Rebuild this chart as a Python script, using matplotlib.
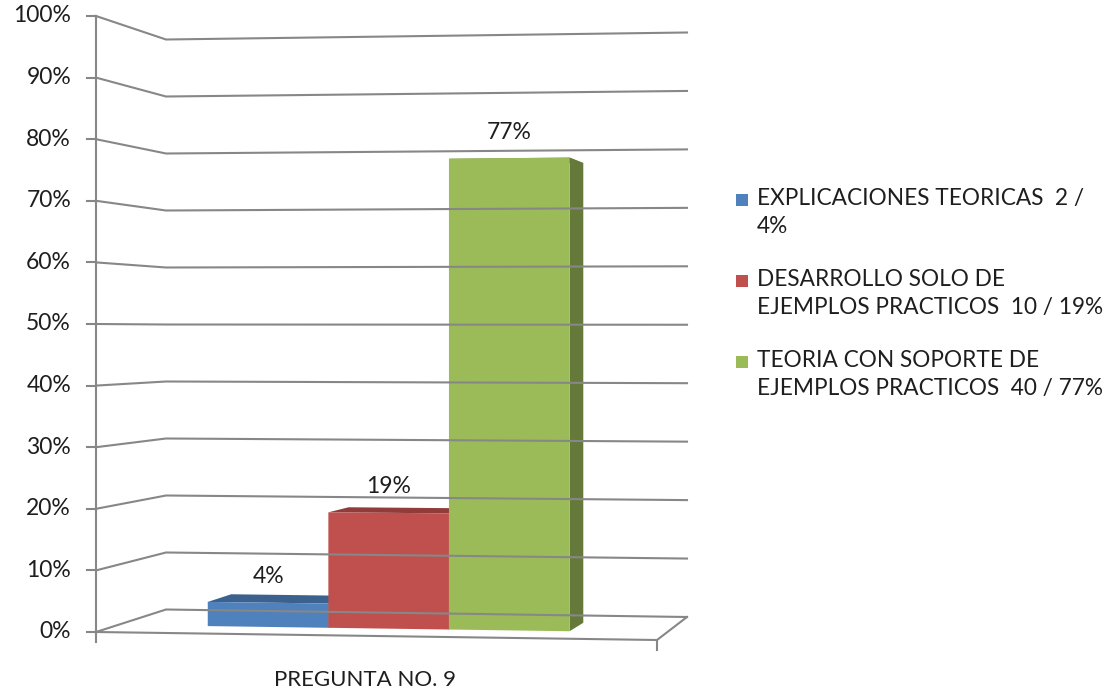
import matplotlib.pyplot as plt
from matplotlib.patches import Polygon
import numpy as np

# datos de la pregunta 9
category = 'PREGUNTA NO. 9'
series_labels = ['EXPLICACIONES TEORICAS  2 /\n4%',
                 'DESARROLLO SOLO DE\nEJEMPLOS PRACTICOS  10 / 19%',
                 'TEORIA CON SOPORTE DE\nEJEMPLOS PRACTICOS  40 / 77%']
counts = [2, 10, 40]
percents = [4, 19, 77]
colors = ['#4F81BD', '#C0504D', '#9BBB59']
ticks = np.arange(0, 101, 10)

plt.rcParams['font.family'] = ['Lato', 'DejaVu Sans']

fig = plt.figure(figsize=(11.11, 6.92), dpi=100)
ax = fig.add_axes([0, 0, 1, 1])
ax.set_xlim(0, 1111)
ax.set_ylim(692, 0)
ax.axis('off')

# esquinas de la caja 3d (pixeles)
FLB = np.array([96.0, 632.0]); FRB = np.array([657.0, 640.0])
BLB = np.array([166.0, 609.5]); BRB = np.array([687.0, 617.0])
FLT = np.array([96.0, 16.0]); FRT = np.array([657.0, 6.0])
BLT = np.array([166.0, 39.5]); BRT = np.array([687.0, 32.5])


def lerp(a, b, t):
    return a + (b - a) * t


def proj(u, d, v):
    # u: ancho, d: profundidad, v: valor (0..1)
    bot = lerp(lerp(FLB, FRB, u), lerp(BLB, BRB, u), d)
    top = lerp(lerp(FLT, FRT, u), lerp(BLT, BRT, u), d)
    return lerp(bot, top, v)


def shade(c, f):
    c = np.array([int(c[i:i + 2], 16) for i in (1, 3, 5)]) / 255.0
    return tuple(c * f)


grid_c = '#878787'
lw = 1.5
txt_c = '#1E1E1E'

# pared lateral y pared del fondo
for t in ticks:
    v = t / 100.0
    pts = np.array([proj(0, 0, v), proj(0, 1, v), proj(1, 1, v)])
    ax.plot(pts[:, 0], pts[:, 1], color=grid_c, lw=lw, solid_joinstyle='miter')

# piso
floor = np.array([proj(0, 0, 0), proj(1, 0, 0), proj(1, 1, 0)])
ax.plot(floor[:, 0], floor[:, 1], color=grid_c, lw=lw)

# eje vertical con marcas
axis = np.array([proj(0, 0, 0), proj(0, 0, 1)])
ax.plot(axis[:, 0], axis[:, 1], color=grid_c, lw=lw)
for t in ticks:
    x, y = proj(0, 0, t / 100.0)
    ax.plot([x - 9, x], [y, y], color=grid_c, lw=lw)
    ax.text(x - 25, y, f'{t}%', ha='right', va='center', fontsize=16.5, color=txt_c)

# marcas del eje de categorias
for u in (0, 1):
    x, y = proj(u, 0, 0)
    ax.plot([x, x], [y, y + 10], color=grid_c, lw=lw)
cx, cy = proj(0.48, 0, 0)
ax.text(cx, cy + 44, category, ha='center', va='center', fontsize=16, color=txt_c)

# barras 3d
width = 0.22
centers = 0.493 + (np.arange(len(percents)) - 1) * width
d0, d1 = 0.32, 0.69
for c, p, col in zip(centers, percents, colors):
    v = p / 100.0
    u0, u1 = c - width / 2, c + width / 2
    top = [proj(u0, d0, v), proj(u1, d0, v), proj(u1, d1, v), proj(u0, d1, v)]
    side = [proj(u1, d0, 0), proj(u1, d1, 0), proj(u1, d1, v), proj(u1, d0, v)]
    front = [proj(u0, d0, 0), proj(u1, d0, 0), proj(u1, d0, v), proj(u0, d0, v)]
    ax.add_patch(Polygon(top, closed=True, fc=shade(col, 0.75), ec='none'))
    ax.add_patch(Polygon(side, closed=True, fc=shade(col, 0.65), ec='none'))
    ax.add_patch(Polygon(front, closed=True, fc=col, ec='none'))
    lx, ly = proj(c, d0, v)
    ax.text(lx, ly - 26, f'{p}%', ha='center', va='center', fontsize=16.5, color=txt_c)

# leyenda
for i, (lab, col) in enumerate(zip(series_labels, colors)):
    y = 200 + i * 81
    ax.add_patch(Polygon([[736, y - 6], [748, y - 6], [748, y + 6], [736, y + 6]],
                         closed=True, fc=col, ec='none'))
    ax.text(757, y - 12, lab, ha='left', va='top', fontsize=16.3, color=txt_c,
            linespacing=1.42)

fig.savefig('out.png', dpi=100)
